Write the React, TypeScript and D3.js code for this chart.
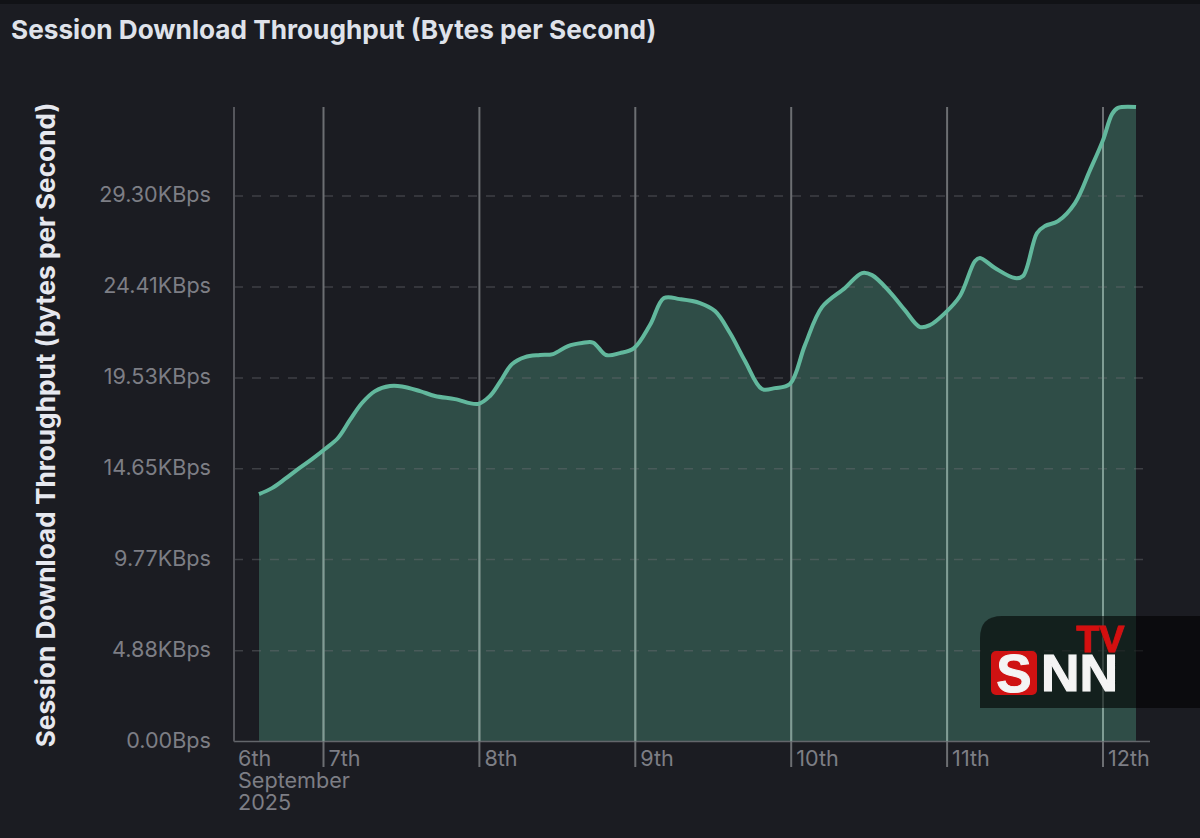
import React from "react";
import * as d3 from "d3";

const W = 1200, H = 838;
const hoursSinceSep7 = [-9.93,-7.93,-5.93,-3.93,-1.77,0.23,2.23,4.08,5.93,7.93,10.24,12.08,14.86,17.16,20.24,23.78,25.63,27.17,29.02,31.02,33.33,35.33,37.64,39.79,41.49,43.49,45.64,47.8,50.26,52.42,54.88,57.96,60.27,62.58,64.89,67.5,69.5,71.8,74.12,76.74,80.28,82.9,84.44,87.2,89.5,91.83,93.37,95.67,97.98,100.3,101.06,103.37,106.45,107.68,109.84,111.07,113.07,115.69,118,120,121.39,122.3,125.08];
const throughputKBps = [13.29,13.61,14.1,14.63,15.17,15.71,16.3,17.27,18.18,18.82,19.09,19.07,18.82,18.56,18.39,18.13,18.56,19.31,20.27,20.65,20.76,20.81,21.24,21.4,21.43,20.76,20.86,21.13,22.37,23.82,23.76,23.55,23.12,21.94,20.44,18.93,18.98,19.2,21.29,23.33,24.36,25.16,25.05,24.14,23.17,22.26,22.37,23.01,23.93,25.81,25.97,25.43,24.89,25,27.31,27.69,27.95,28.92,30.69,32.3,33.7,34.03,34.08];
const yTicks = [0, 4.88, 9.77, 14.65, 19.53, 24.41, 29.3];
const yTickLabels = ["0.00Bps","4.88KBps","9.77KBps","14.65KBps","19.53KBps","24.41KBps","29.30KBps"];
const dayTicks = [0, 24, 48, 72, 96, 120];
const dayLabels = ["7th","8th","9th","10th","11th","12th"];
const firstLabel = ["6th","September","2025"];

const x = d3.scaleLinear().domain([0, 120]).range([323.5, 1103]);
const y = d3.scaleLinear().domain([0, 29.3]).range([741.5, 196]);
const pts = hoursSinceSep7.map((h, i) => [h, throughputKBps[i]] as [number, number]);
const curve = d3.curveCatmullRom.alpha(0.5);
const line = d3.line<[number, number]>().x(d => x(d[0])).y(d => y(d[1])).curve(curve);
const area = d3.area<[number, number]>().x(d => x(d[0])).y0(y(0)).y1(d => y(d[1])).curve(curve);

const font = "Inter, 'Noto Sans', sans-serif";
const tickFill = "#7d7e85";
const logoFont = "'Liberation Sans', sans-serif";

export default function App() {
  const areaPath = area(pts) ?? "";
  return (
    <svg width={W} height={H} viewBox={`0 0 ${W} ${H}`} style={{ position: "absolute", left: 0, top: 0, display: "block", fontFamily: font }}>
      <defs>
        <clipPath id="areaClip"><path d={areaPath} /></clipPath>
      </defs>
      <rect width={W} height={H} fill="#1b1c22" />
      <rect width={W} height={4} fill="#111216" />
      <text x={11} y={39} fontSize={26.2} fontWeight={700} fill="#dfe2ea">Session Download Throughput (Bytes per Second)</text>
      <text transform="translate(55,425) rotate(-90)" textAnchor="middle" fontSize={26.2} fontWeight={700} fill="#e6e8ef">Session Download Throughput (bytes per Second)</text>

      <path d={areaPath} fill="#2f4d47" />

      {yTicks.slice(1).map(t => (
        <line key={t} x1={234} x2={1150} y1={y(t)} y2={y(t)} stroke="#6b6d72" strokeOpacity={0.45} strokeWidth={1.5} strokeDasharray="9 9" />
      ))}
      <line x1={234} x2={1150} y1={y(0)} y2={y(0)} stroke="#63666b" strokeWidth={1.5} />
      <line x1={234} x2={234} y1={107} y2={y(0)} stroke="#55565c" strokeWidth={2} />
      {dayTicks.map(h => (
        <line key={h} x1={x(h)} x2={x(h)} y1={107} y2={767} stroke="#6c6e72" strokeWidth={2} />
      ))}
      <g clipPath="url(#areaClip)">
        {dayTicks.map(h => (
          <line key={h} x1={x(h)} x2={x(h)} y1={107} y2={y(0)} stroke="#7f9d94" strokeWidth={2} />
        ))}
      </g>

      <path d={line(pts) ?? ""} fill="none" stroke="#62b89d" strokeWidth={4} strokeLinejoin="round" />

      {yTicks.map((t, i) => (
        <text key={t} x={211} y={y(t) + 6} textAnchor="end" fontSize={21.6} fill={tickFill}>{yTickLabels[i]}</text>
      ))}
      {dayTicks.map((h, i) => (
        <text key={h} x={x(h) + 5} y={766} fontSize={21.6} fill={tickFill}>{dayLabels[i]}</text>
      ))}
      {firstLabel.map((s, i) => (
        <text key={s} x={238} y={766 + i * 22} fontSize={21.6} fill={tickFill}>{s}</text>
      ))}

      <path d="M1200 616 H1002 Q980 616 980 638 V708 H1200 Z" fill="#000" fillOpacity={0.58} />
      <rect x={991} y={651} width={46} height={44} rx={5} fill="#cf1212" />
      <text x={1014} y={692} textAnchor="middle" fontFamily={logoFont} fontWeight={700} fontSize={53} fill="#f4f4f4" stroke="#f4f4f4" strokeWidth={1}>S</text>
      <text x={1041} y={691} fontFamily={logoFont} fontWeight={700} fontSize={52} fill="#f4f4f4" stroke="#f4f4f4" strokeWidth={1.2} textLength={77} lengthAdjust="spacingAndGlyphs">NN</text>
      <text x={1076} y={652} fontFamily={logoFont} fontWeight={700} fontSize={36} fill="#d40f0f" stroke="#d40f0f" strokeWidth={1} textLength={48} lengthAdjust="spacingAndGlyphs">TV</text>
    </svg>
  );
}
